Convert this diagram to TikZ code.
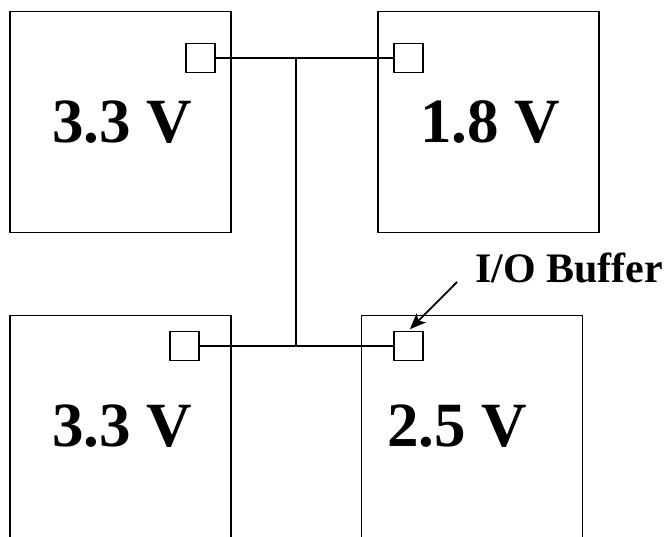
\documentclass[tikz,border=0pt]{standalone}
\usepackage{fontspec}
\setmainfont{Liberation Serif}
\usetikzlibrary{arrows.meta}
\tikzset{
  chip/.style={draw,line width=1.8pt,minimum width=221pt,minimum height=221pt,inner sep=0pt},
  buf/.style={draw,line width=1.8pt,fill=white,minimum width=29pt,minimum height=29pt,inner sep=0pt},
  volt/.style={font=\fontsize{63}{63}\selectfont\bfseries,inner sep=0pt},
  wire/.style={line width=1.8pt}
}
\begin{document}
\begin{tikzpicture}[x=1pt,y=-1pt,>={Stealth[length=16pt,width=13pt,inset=4pt]}]
  \clip (0,0) rectangle (668,536);
  \node[chip] (tl) at (120.5,122) {};
  \node[chip] (tr) at (488.5,122) {};
  \node[chip,minimum height=226pt] (bl) at (120.5,428.5) {};
  \node[chip,minimum height=226pt] (br) at (472,428.5) {};
  \node[volt] (tlv) at ([xshift=1.5pt]tl.center) {3.3 V};
  \node[volt] (trv) at ([xshift=1.5pt]tr.center) {1.8 V};
  \node[volt] (blv) at ([xshift=1.5pt,yshift=2.5pt]bl.center) {3.3 V};
  \node[volt] (brv) at ([xshift=-15pt,yshift=2.5pt]br.center) {2.5 V};
  \node[buf] (tlsq) at (200.5,58) {};
  \node[buf] (trsq) at (408.5,58) {};
  \node[buf] (blsq) at (184.5,346) {};
  \node[buf] (brsq) at (408.5,346) {};
  \coordinate (jt) at (296,58);
  \coordinate (jb) at (296,346);
  \draw[wire] (tlsq.east) -- (jt) -- (trsq.west);
  \draw[wire] (jt) -- (jb);
  \draw[wire] (blsq.east) -- (jb) -- (brsq.west);
  \node[anchor=base west,inner sep=0pt,font=\fontsize{42}{42}\selectfont\bfseries] (iob) at (475,282) {I/O Buffer};
  \coordinate (iofoot) at (457,282);
  \draw[wire,->,shorten >=2pt] (iofoot) -- (brsq.north);
\end{tikzpicture}
\end{document}
